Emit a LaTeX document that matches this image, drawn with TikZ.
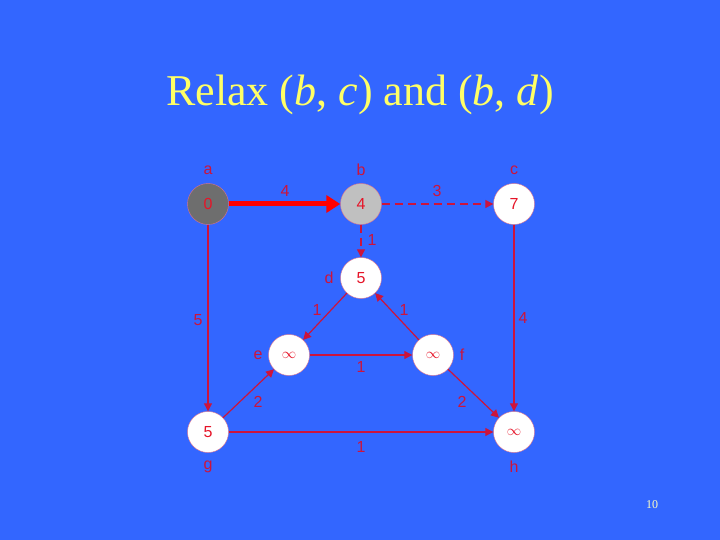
\documentclass[tikz,border=0pt]{standalone}
\usepackage{fontspec}
\setmainfont{Liberation Serif}
\newfontfamily\lsans{Liberation Sans}
\usetikzlibrary{arrows.meta}
\definecolor{bg}{RGB}{51,102,255}
\definecolor{ttl}{RGB}{255,255,102}
\definecolor{crim}{RGB}{204,20,60}
\definecolor{redt}{RGB}{230,20,40}
\definecolor{dgray}{RGB}{110,110,110}
\definecolor{lgray}{RGB}{192,192,192}
\tikzset{
  vert/.style={circle,minimum size=41pt,inner sep=0pt,fill=white,draw=crim!60,line width=0.4pt,text=redt,font=\lsans\fontsize{16}{16}\selectfont},
  lbl/.style={text=crim,font=\lsans\fontsize{16}{16}\selectfont,inner sep=0pt},
  edge/.style={draw=crim,line width=1.2pt,-{Triangle[length=8pt,width=8pt]}},
  dedge/.style={edge,dash pattern=on 8pt off 5pt},
  inf/.style={font=\lsans\fontsize{14}{14}\selectfont}
}
\begin{document}
\begin{tikzpicture}[x=1pt,y=-1pt]
\fill[bg] (0,0) rectangle (720,540);
\useasboundingbox (0,0) rectangle (720,540);
\node[text=ttl,font=\fontsize{44}{44}\selectfont] (title) at (360,95) {Relax (\textit{b}, \textit{c}) and (\textit{b}, \textit{d})};
\node[text=ttl!40!white,font=\fontsize{12}{12}\selectfont] (pg) at (652,505) {10};
% vertices
\node[vert,fill=dgray] (a) at (208,204) {0};
\node[vert,fill=lgray] (b) at (361,204) {4};
\node[vert] (c) at (514,204) {7};
\node[vert] (d) at (361,278) {5};
\node[vert,inf] (e) at (289,355) {$\infty$};
\node[vert,inf] (f) at (433,355) {$\infty$};
\node[vert] (g) at (208,432) {5};
\node[vert,inf] (h) at (514,432) {$\infty$};
% vertex names
\node[lbl] (la) at (208,170) {a};
\node[lbl] (lb) at (361,170) {b};
\node[lbl] (lc) at (514,170) {c};
\node[lbl] (ld) at (329,278) {d};
\node[lbl] (le) at (258,355) {e};
\node[lbl] (lf) at (462,355) {f};
\node[lbl] (lg) at (208,467) {g};
\node[lbl] (lh) at (514,467) {h};
% edges
\draw[draw=red,line width=5pt,-{Triangle[length=14pt,width=17pt]}] (a) -- (b);
\draw[dedge] (b) -- (c);
\draw[dedge] (b) -- (d);
\draw[edge] (a) -- (g);
\draw[edge] (c) -- (h);
\draw[edge] (d) -- (e);
\draw[edge] (f) -- (d);
\draw[edge] (e) -- (f);
\draw[edge] (g) -- (e);
\draw[edge] (f) -- (h);
\draw[edge] (g) -- (h);
% weights
\node[lbl] (w1) at (285,191) {4};
\node[lbl] (w2) at (437,191) {3};
\node[lbl] (w3) at (372,240) {1};
\node[lbl] (w4) at (198,320) {5};
\node[lbl] (w5) at (523,318) {4};
\node[lbl] (w6) at (317,310) {1};
\node[lbl] (w7) at (404,310) {1};
\node[lbl] (w8) at (361,367) {1};
\node[lbl] (w9) at (258,402) {2};
\node[lbl] (w10) at (462,402) {2};
\node[lbl] (w11) at (361,447) {1};
\end{tikzpicture}
\end{document}
